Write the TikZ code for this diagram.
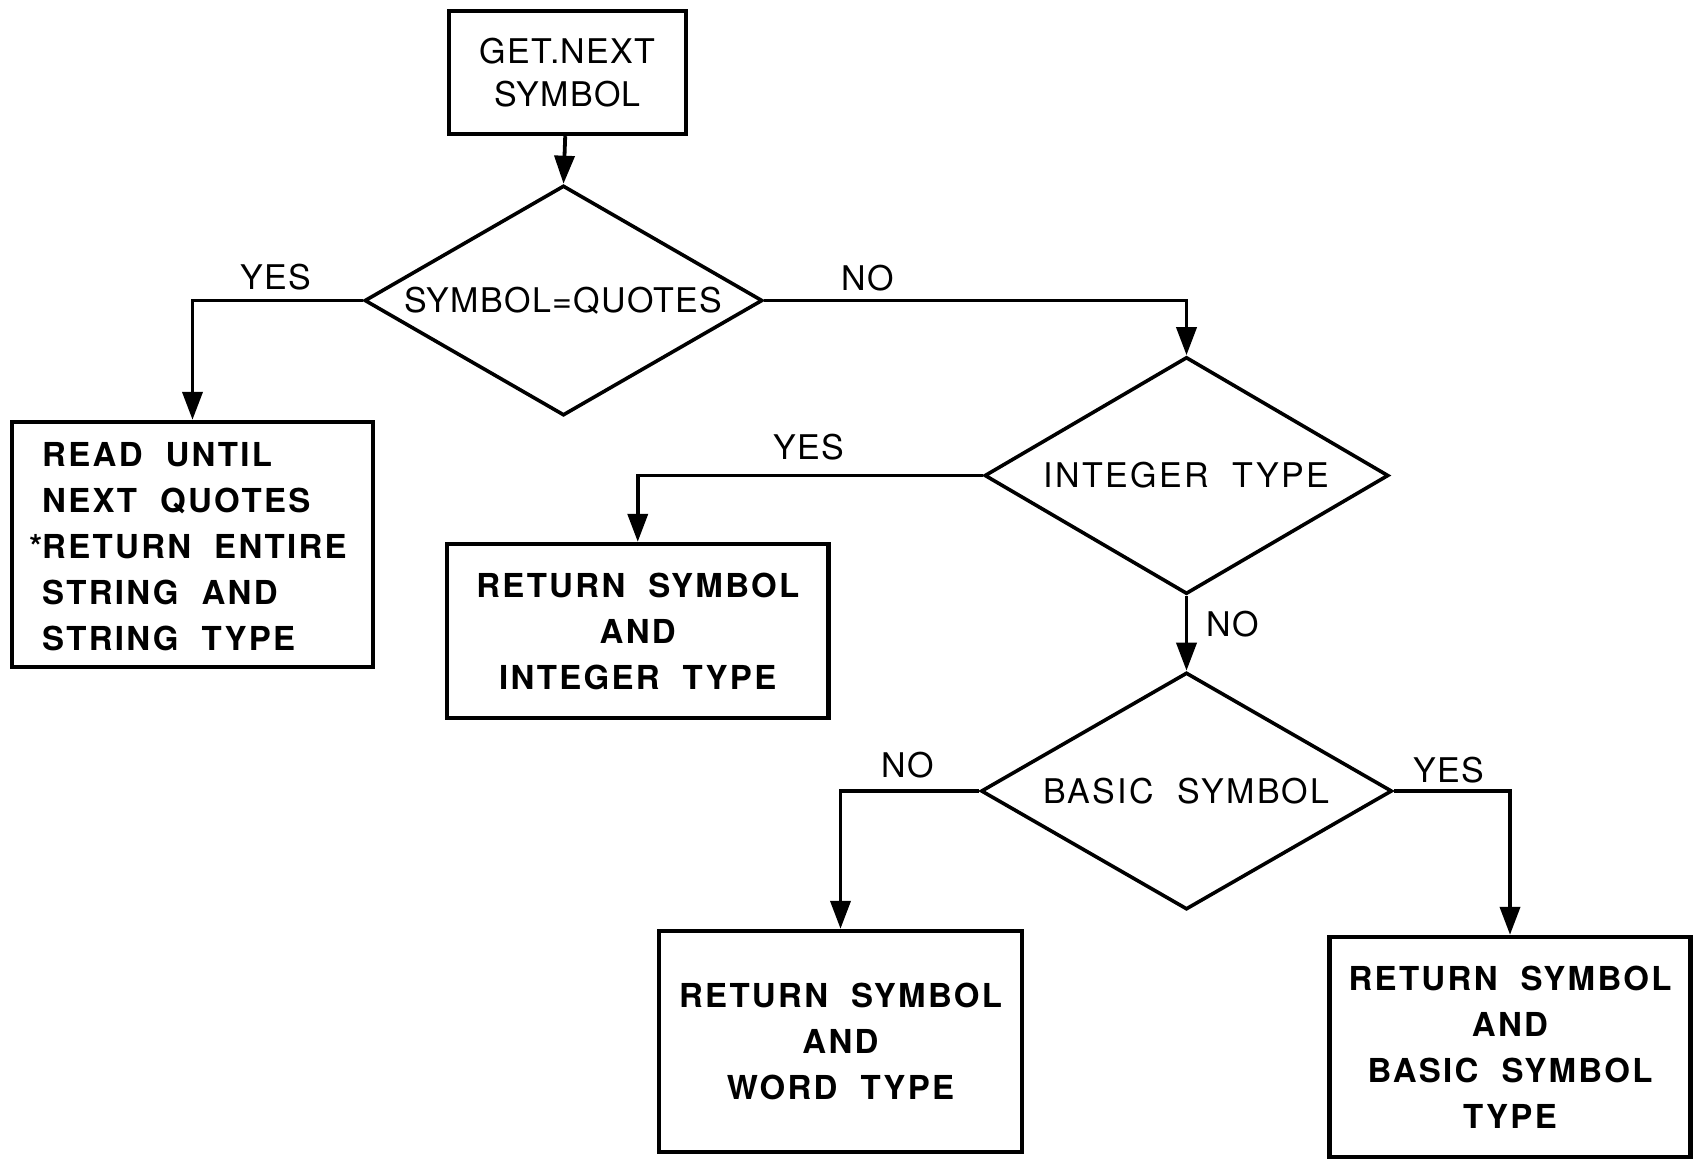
\documentclass[tikz,border=0pt]{standalone}
\usepackage{fontspec}
\setmainfont{TeX Gyre Heros}
\newfontfamily\boxfont[LetterSpace=7,WordSpace=2]{TeX Gyre Heros}
\newfontfamily\diafont[LetterSpace=4]{TeX Gyre Heros}
\newfontfamily\diawide[LetterSpace=7,WordSpace=2]{TeX Gyre Heros}
\usetikzlibrary{shapes.geometric,arrows.meta}
\begin{document}
\begin{tikzpicture}[x=0.5pt,y=-0.5pt,
  procbox/.style={draw,line width=2.2pt,rectangle,inner sep=0pt,align=center,
    font=\boxfont\bfseries\fontsize{16.5}{23}\selectfont},
  decide/.style={draw,line width=1.8pt,diamond,inner sep=0pt,aspect=1.73,
    font=\diafont\fontsize{17}{20}\selectfont},
  flow/.style={line width=1.9pt,-{Triangle[length=14pt,width=10pt]}},
  lab/.style={font=\diafont\fontsize{17}{20}\selectfont,inner sep=0pt}]
\useasboundingbox (0,0) rectangle (1696,1175);
\node[procbox,minimum width=118.5pt,minimum height=61.5pt,font=\diafont\fontsize{17}{21.5}\selectfont] (b1) at (567.5,72.5) {GET.NEXT\\SYMBOL};
\node[decide,minimum width=199pt,minimum height=115pt] (d1) at (563.5,300.5) {SYMBOL=QUOTES};
\node[procbox,minimum width=180.5pt,minimum height=122.5pt] (b2) at (192.5,544.5) {};
\node[procbox,draw=none,align=left,anchor=north west] (t2) at (40,440) {READ UNTIL\\NEXT QUOTES\\\llap{*}RETURN ENTIRE\\STRING AND\\STRING TYPE};
\node[decide,minimum width=202pt,minimum height=118.5pt,font=\diawide\fontsize{17}{20}\selectfont] (d2) at (1186.5,475.5) {INTEGER TYPE};
\node[procbox,minimum width=190.75pt,minimum height=87pt] (b3) at (637.75,631) {RETURN SYMBOL\\AND\\INTEGER TYPE};
\node[decide,minimum width=205.5pt,minimum height=118.5pt,font=\diawide\fontsize{17}{20}\selectfont] (d3) at (1186.5,791) {BASIC SYMBOL};
\node[procbox,minimum width=181.5pt,minimum height=110.5pt] (b4) at (840.5,1041.5) {RETURN SYMBOL\\AND\\WORD TYPE};
\node[procbox,minimum width=180.5pt,minimum height=110pt] (b5) at (1510,1047) {RETURN SYMBOL\\AND\\BASIC SYMBOL\\TYPE};
\draw[flow] (b1) -- (d1.north);
\draw[flow] (d1.west) -| (b2.north);
\draw[flow] (d1.east) -| (d2.north);
\draw[flow] (d2.west) -| (b3.north);
\draw[flow] (d2.south) -- (d3.north);
\draw[flow] (d3.west) -| (b4.north);
\draw[flow] (d3.east) -| (b5.north);
\node[lab] (l1) at (276,277) {YES};
\node[lab] (l2) at (868,278) {NO};
\node[lab] (l3) at (809,447) {YES};
\node[lab] (l4) at (1233,624) {NO};
\node[lab] (l5) at (908,765) {NO};
\node[lab] (l6) at (1449,770) {YES};
\end{tikzpicture}
\end{document}
